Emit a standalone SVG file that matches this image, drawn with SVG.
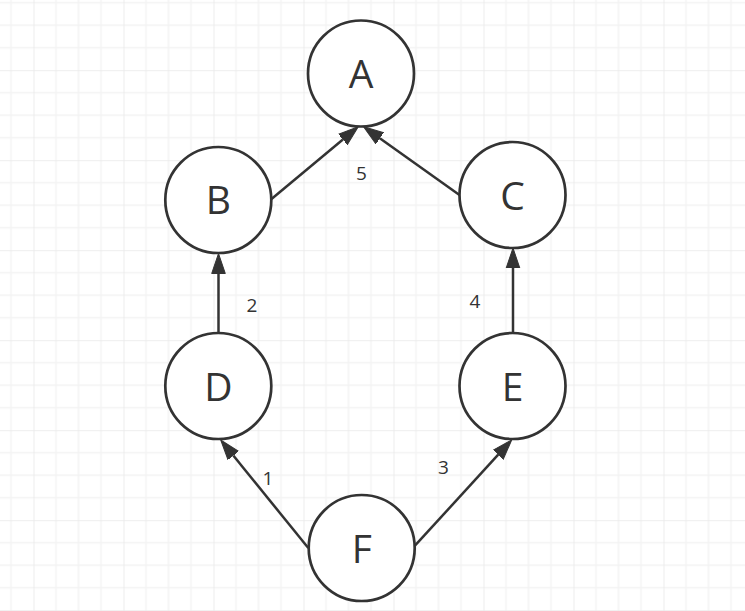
<svg xmlns="http://www.w3.org/2000/svg" width="745" height="611" viewBox="0 0 745 611">
<style>
.node circle{fill:#ffffff;stroke:#333333;stroke-width:2.7}
.node text{font-family:"Open Sans","Liberation Sans",sans-serif;font-size:39px;fill:#333333;text-anchor:middle}
.edge{stroke:#333333;stroke-width:2.5;fill:none;marker-end:url(#arrow)}
.lbl{font-family:"Open Sans","Liberation Sans",sans-serif;font-size:19px;fill:#333333;text-anchor:middle}
</style>
<defs>
<pattern id="grid" patternUnits="userSpaceOnUse" x="33.5" y="70.2" width="90" height="90">
<path d="M22.5,0V90M45,0V90M67.5,0V90M0,22.5H90M0,45H90M0,67.5H90" stroke="#f3f3f3" stroke-width="1.5" fill="none"/>
<path d="M0,0V90M0,0H90" stroke="#e9e9e9" stroke-width="1.5" fill="none"/>
</pattern>
<marker id="arrow" markerUnits="userSpaceOnUse" viewBox="0 -8 22 16" markerWidth="22" markerHeight="16" refX="0" refY="0" orient="auto">
<path d="M0,-6.8 L20,0 L0,6.8 z" fill="#333333" stroke="#333333" stroke-width="1"/>
</marker>
</defs>
<rect width="745" height="611" fill="#ffffff"/>
<rect width="745" height="611" fill="url(#grid)"/>
<g id="connectors">
<line class="edge" x1="271.5" y1="199" x2="342.9" y2="139.5"/>
<line class="edge" x1="459.5" y1="195" x2="379.8" y2="138.3"/>
<line class="edge" x1="218.5" y1="333" x2="218.5" y2="273.5"/>
<line class="edge" x1="513" y1="333" x2="513" y2="268"/>
<line class="edge" x1="308.3" y1="548" x2="233.3" y2="455.5"/>
<line class="edge" x1="414" y1="546.7" x2="498.2" y2="454.7"/>
<text class="lbl" x="361.5" y="180">5</text>
<text class="lbl" x="252" y="311.7">2</text>
<text class="lbl" x="475" y="308.3">4</text>
<text class="lbl" x="268" y="485">1</text>
<text class="lbl" x="443.5" y="474">3</text>
</g>
<g id="node-A" class="node"><circle cx="361" cy="73.5" r="53"/><text x="361" y="88">A</text></g>
<g id="node-B" class="node"><circle cx="218.3" cy="200" r="53"/><text x="218.3" y="214">B</text></g>
<g id="node-C" class="node"><circle cx="512.5" cy="195" r="53"/><text x="512.5" y="210">C</text></g>
<g id="node-D" class="node"><circle cx="218.3" cy="386" r="53"/><text x="218.3" y="401">D</text></g>
<g id="node-E" class="node"><circle cx="512.5" cy="386" r="53"/><text x="512.5" y="401">E</text></g>
<g id="node-F" class="node"><circle cx="361.7" cy="548" r="53"/><text x="361.7" y="562.7">F</text></g>
</svg>
